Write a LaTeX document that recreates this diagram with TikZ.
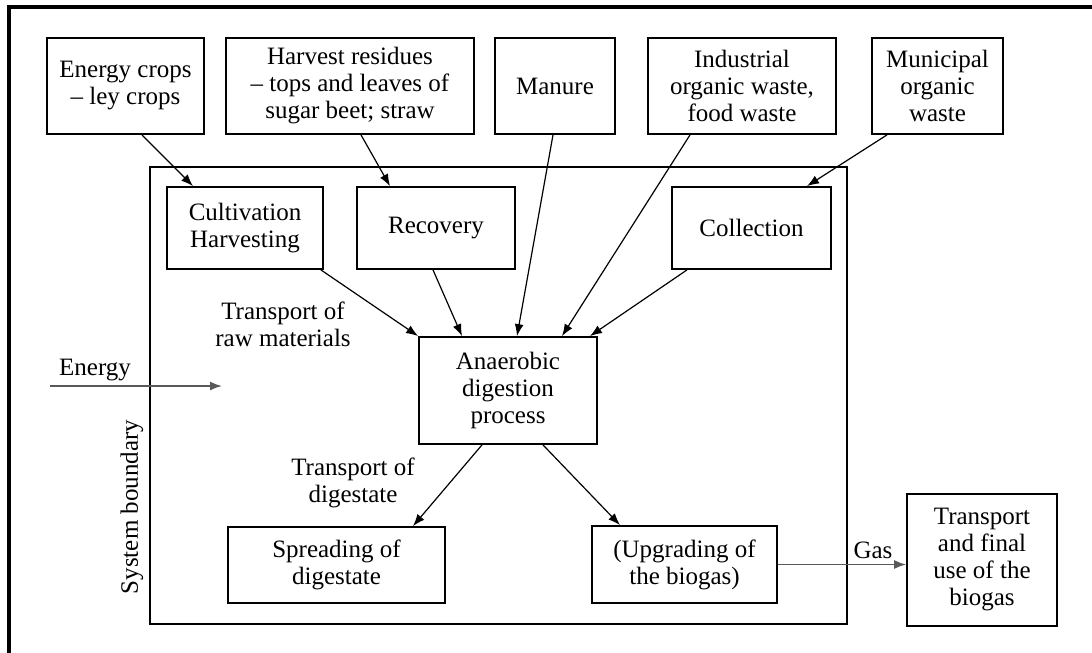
\documentclass[tikz,border=0pt]{standalone}
\usepackage{fontspec}
\setmainfont{Liberation Serif}
\usetikzlibrary{arrows.meta,calc}

\begin{document}
\begin{tikzpicture}[x=0.5pt, y=-0.5pt,
  font=\fontsize{12.5}{13.5}\selectfont,
  box/.style={draw, line width=0.9pt, align=center, inner sep=1pt},
  arr/.style={-{Latex[length=6pt,width=4.5pt]}, line width=0.6pt},
  flow/.style={-{Latex[length=6pt,width=4.5pt]}, line width=0.8pt, black!65},
  lbl/.style={align=center, inner sep=0pt}]
\useasboundingbox (0,0) rectangle (1092,653);
% page frame, top and left edge only
\draw[line width=2pt] (9,653) -- (9,7) -- (1092,7);

% inputs along the top
\node[box, minimum width=78.5pt, minimum height=48pt] (ecrops) at (125.5,86) {Energy crops\\-- ley crops};
\node[box, minimum width=124pt, minimum height=48pt] (hres) at (350,86) {Harvest residues\\-- tops and leaves of\\sugar beet; straw};
\node[box, minimum width=60pt, minimum height=48pt] (manure) at (555,86) {Manure};
\node[box, minimum width=94pt, minimum height=48pt] (indw) at (742,86) {Industrial\\organic waste,\\food waste};
\node[box, minimum width=65.5pt, minimum height=48pt] (munw) at (937.5,86) {Municipal\\organic\\waste};

% system boundary
\draw[line width=0.9pt] (150,167) rectangle (847,624);
\node[lbl, rotate=90] (sysb) at (132,507) {System boundary};

% first handling steps
\node[box, minimum width=78pt, minimum height=41pt] (cult) at (245,228) {Cultivation\\Harvesting};
\node[box, minimum width=79pt, minimum height=41pt] (recov) at (436,228) {Recovery};
\node[box, minimum width=79.5pt, minimum height=41pt] (coll) at (751.5,228) {Collection};

% digester and outputs
\node[box, minimum width=89pt, minimum height=53.5pt] (anae) at (508,390.5) {Anaerobic\\digestion\\process};
\node[box, minimum width=108.5pt, minimum height=38pt] (spread) at (336.5,565) {Spreading of\\digestate};
\node[box, minimum width=92.5pt, minimum height=38.5pt] (upgr) at (684.5,564.5) {(Upgrading of\\the biogas)};
\node[box, minimum width=75pt, minimum height=66pt] (final) at (982,560) {Transport\\and final\\use of the\\biogas};

% labels
\node[lbl] (rawlbl) at (283,324) {Transport of\\raw materials};
\node[lbl] (diglbl) at (353,483) {Transport of\\digestate};
\node[lbl] (enlbl) at (95,370) {Energy};
\node[lbl] (gaslbl) at (873,550) {Gas};

% energy input
\coordinate (ein) at (50,386);
\coordinate (eout) at (222,386);
\draw[flow] (ein) -- (eout);

% arrows into the handling steps
\draw[arr] ($(ecrops.south)+(16.5,0)$) -- ($(cult.north)+(-52,0)$);
\draw[arr] ($(hres.south)+(11,0)$) -- ($(recov.north)+(-46,0)$);
\draw[arr] ($(munw.south)+(-50.5,0)$) -- ($(coll.north)+(55.5,0)$);

% arrows into the digester
\draw[arr] ($(cult.south east)+(-3,0)$) -- (anae.north west);
\draw[arr] ($(recov.south)+(-3,0)$) -- ($(anae.north)+(-46,0)$);
\draw[arr] ($(manure.south)+(-2,0)$) -- ($(anae.north)+(9,0)$);
\draw[arr] ($(indw.south)+(-52,0)$) -- ($(anae.north)+(54,0)$);
\draw[arr] ($(coll.south)+(-64.5,0)$) -- ($(anae.north)+(82,0)$);

% arrows out of the digester
\draw[arr] ($(anae.south)+(-26,0)$) -- ($(spread.north)+(76.5,0)$);
\draw[arr] ($(anae.south)+(35,0)$) -- ($(upgr.north)+(-64.5,0)$);
\draw[flow] (upgr.east) -- (upgr.east -| final.west);
\end{tikzpicture}
\end{document}
